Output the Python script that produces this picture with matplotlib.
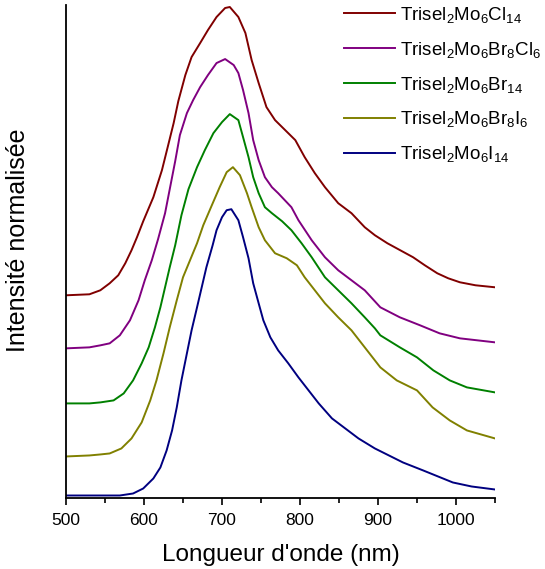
import matplotlib.pyplot as plt

plt.rcParams['font.family'] = 'Liberation Sans'
plt.rcParams['mathtext.fontset'] = 'custom'
plt.rcParams['mathtext.rm'] = 'Liberation Sans'
plt.rcParams['mathtext.default'] = 'regular'

# Data (wavelength in nm, normalised intensity incl. offsets)
wl_cl = [500, 530, 544, 556, 567, 576, 584, 591, 599, 612, 623, 631, 638, 644, 653, 661,
         672, 682, 693, 704, 710, 721, 730, 738, 747, 757, 768, 781, 794, 806, 819, 832,
         849, 866, 883, 896, 912, 945, 960, 976, 990, 1005, 1025, 1050]
int_cl = [202, 203, 207, 214, 222, 234, 247, 260, 276, 300, 327, 352, 374, 396, 422, 440,
          454, 467, 480, 489, 490, 480, 464, 437, 414, 390, 377, 367, 357, 340, 324, 310,
          294, 284, 270, 262, 254, 240, 232, 224, 219, 215, 212, 210]

wl_brcl = [500, 530, 544, 556, 569, 582, 593, 601, 610, 618, 627, 633, 640, 646, 655, 663,
           672, 682, 693, 704, 715, 721, 727, 734, 740, 747, 755, 764, 772, 789, 798, 815,
           832, 849, 866, 883, 903, 928, 954, 979, 1005, 1050]
int_brcl = [149, 150, 152, 154, 162, 177, 197, 217, 237, 258, 284, 308, 336, 362, 384, 397,
            410, 422, 434, 438, 432, 424, 407, 384, 357, 337, 320, 310, 304, 290, 277, 257,
            240, 227, 217, 207, 190, 180, 172, 164, 159, 155]

wl_br = [500, 530, 544, 561, 574, 586, 597, 606, 614, 621, 627, 633, 640, 648, 657, 668,
         678, 689, 700, 710, 721, 727, 734, 740, 747, 755, 764, 777, 789, 802, 815, 832,
         849, 866, 883, 896, 903, 928, 950, 971, 992, 1014, 1050]
int_br = [94, 94, 95, 97, 104, 117, 134, 150, 170, 190, 210, 230, 252, 282, 308, 330,
          347, 364, 375, 383, 377, 360, 340, 320, 304, 290, 284, 276, 267, 254, 240, 220,
          207, 194, 180, 169, 162, 150, 140, 127, 117, 110, 105]

wl_bri = [500, 530, 544, 556, 571, 584, 597, 608, 616, 625, 633, 642, 650, 659, 668, 676,
          687, 697, 706, 714, 723, 732, 738, 747, 755, 768, 783, 796, 806, 819, 832, 849,
          866, 883, 896, 903, 924, 950, 970, 992, 1014, 1050]
int_bri = [41, 42, 43, 44, 49, 59, 75, 97, 117, 144, 170, 197, 220, 237, 254, 272,
           292, 310, 325, 330, 322, 304, 290, 270, 257, 244, 239, 232, 220, 207, 194, 180,
           167, 150, 137, 130, 117, 107, 90, 77, 67, 59]

wl_i = [500, 540, 569, 586, 599, 612, 621, 629, 636, 642, 648, 655, 661, 668, 674, 680,
        688, 693, 700, 706, 712, 721, 727, 734, 740, 747, 753, 762, 772, 785, 798, 811,
        824, 841, 858, 875, 896, 932, 958, 996, 1020, 1050]
int_i = [2, 2, 2, 4, 9, 19, 30, 47, 67, 90, 117, 144, 167, 190, 210, 230,
         252, 267, 280, 287, 288, 277, 260, 239, 214, 194, 177, 160, 147, 134, 120, 107,
         94, 79, 69, 59, 49, 35, 27, 15, 11, 8]

labels = ['Trisel$_2$Mo$_6$Cl$_{14}$',
          'Trisel$_2$Mo$_6$Br$_8$Cl$_6$',
          'Trisel$_2$Mo$_6$Br$_{14}$',
          'Trisel$_2$Mo$_6$Br$_8$I$_6$',
          'Trisel$_2$Mo$_6$I$_{14}$']
colors = ['#800000', '#800080', '#008000', '#808000', '#000080']

fig = plt.figure(figsize=(5.45, 5.69), dpi=100)
ax = fig.add_axes([66 / 545, 1 - 497.5 / 569, 429 / 545, 492.5 / 569])

series = [(wl_cl, int_cl), (wl_brcl, int_brcl), (wl_br, int_br), (wl_bri, int_bri), (wl_i, int_i)]
for (x, y), lab, c in zip(series, labels, colors):
    ax.plot(x, y, color=c, lw=1.4, label=lab)

ax.set_xlim(500, 1050)
ax.set_ylim(0, 492)
ax.set_xticks([500, 600, 700, 800, 900, 1000])
ax.set_xticks(range(550, 1051, 100), minor=True)
ax.tick_params(axis='x', which='major', direction='out', length=5, width=1.2, labelsize=12.5, pad=6)
ax.tick_params(axis='x', which='minor', direction='out', length=3.5, width=1.2)
ax.set_yticks([])
for s in ['top', 'right']:
    ax.spines[s].set_visible(False)
for s in ['left', 'bottom']:
    ax.spines[s].set_linewidth(1.3)

ax.set_xlabel("Longueur d'onde (nm)", fontsize=17.5, labelpad=12)
ax.set_ylabel('Intensité normalisée', fontsize=18)
ax.yaxis.set_label_coords(-0.083, 0.523)

ax.legend(loc='upper left', bbox_to_anchor=(344 / 545, 1 - 5 / 569), bbox_transform=fig.transFigure,
          frameon=False, fontsize=13.5, handlelength=2.7, handletextpad=0.3,
          labelspacing=0.79, borderpad=0, borderaxespad=0)

fig.savefig('out.png', dpi=100)
